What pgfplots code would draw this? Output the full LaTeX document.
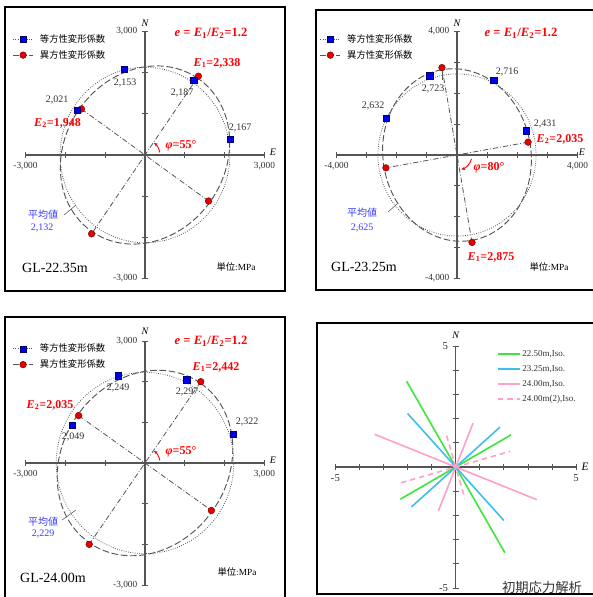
\documentclass[border=0pt]{standalone}
\usepackage{fontspec}
\setmainfont{Liberation Serif}
\newfontfamily\jp{Noto Sans CJK JP}
\usepackage{pgfplots}
\pgfplotsset{compat=1.18}
\usetikzlibrary{arrows.meta}

\definecolor{axgray}{HTML}{555555}
\definecolor{lblgray}{HTML}{333333}
\definecolor{mkred}{HTML}{E60000}
\definecolor{mkblue}{HTML}{0000F0}
\definecolor{avgblue}{HTML}{3C3CFF}
\definecolor{stressgreen}{HTML}{3CE63C}
\definecolor{stressblue}{HTML}{3CBEF0}
\definecolor{stresspink}{HTML}{FFA0C8}

\newcommand\lbl{\fontsize{7.5}{8}\selectfont\color{lblgray}}
\newcommand\redlbl{\fontsize{9}{10}\selectfont\bfseries\color{red}}

\tikzset{
  dirline/.style={axgray, line width=0.6pt,
    dash pattern=on 4pt off 1.5pt on 0.6pt off 1.5pt},
  isocircle/.style={axgray, line width=0.6pt, dash pattern=on 0.6pt off 1.1pt},
  anisoellipse/.style={axgray, line width=0.7pt, dash pattern=on 5pt off 2pt},
  stresskey/.style={anchor=west, inner sep=0pt, font=\fontsize{6.75}{7}\selectfont, text=lblgray},
}

\pgfplotsset{
  rosette/.style={
    scale only axis, anchor=center, clip=false,
    axis lines=middle, axis line style={axgray, line width=0.8pt, -},
    tick style={axgray, line width=0.6pt}, tick align=center, major tick length=4.5pt,
    ticklabel style={font=\fontsize{7}{8}\selectfont, text=lblgray},
  },
  rosettelegend/.style={
    legend cell align=left,
    legend style={at={(#1,1.0)}, anchor=north west, draw=none, fill=none,
      inner sep=0pt, row sep=0.4pt, column sep=2.8pt,
      font=\jp\fontsize{7}{8}\selectfont},
    legend image code/.code={\draw[mark repeat=2,mark phase=2,##1]
      plot coordinates {(0pt,0pt) (7.5pt,0pt) (15pt,0pt)};},
  },
  isomark/.style={only marks, mark=square*, mark size=2.4pt,
    mark options={solid, fill=mkblue, draw=blue!40!black, line width=0.3pt}},
  anisomark/.style={only marks, mark=*, mark size=2.5pt,
    mark options={solid, fill=mkred, draw=red!40!black, line width=0.3pt}},
}

\begin{document}
\begin{tikzpicture}
\path[use as bounding box] (0pt,0pt) rectangle (444.75pt,-447.75pt);

% ---------------- GL-22.35m ----------------
\begin{axis}[rosette, rosettelegend=-0.055,
  at={(108.75pt,-116.25pt)}, width=179.25pt, height=185.25pt,
  xmin=-3000, xmax=3000, ymin=-3000, ymax=3000,
  xtick={-3000,-2000,-1000,1000,2000,3000}, ytick={-3000,-2000,-1000,1000,2000,3000},
  xticklabels={{-3,000},,,,,{3,000}}, yticklabels={{-3,000},,,,,{3,000}}]
\addlegendimage{isocircle, mark=square*, mark size=2.2pt,
  mark options={solid, fill=mkblue, draw=blue!40!black, line width=0.3pt}}
\addlegendentry{等方性変形係数}
\addlegendimage{anisoellipse, dash pattern=on 4.5pt off 1.5pt, mark=*, mark size=2.5pt,
  mark options={solid, fill=mkred, draw=red!40!black, line width=0.3pt}}
\addlegendentry{異方性変形係数}
\draw[isocircle] (axis cs:0,0) ellipse [x radius=2132, y radius=2132];
\draw[anisoellipse, rotate around={55:(axis cs:0,0)}] (axis cs:0,0) ellipse [x radius=2338, y radius=1948];
\addplot[dirline, data cs=polar, forget plot] coordinates {(55,2338) (235,2338)};
\addplot[dirline, data cs=polar, forget plot] coordinates {(145,1948) (325,1948)};
\addplot[anisomark, data cs=polar, forget plot] coordinates {(55,2338) (145,1948) (235,2338) (325,1948)};
\addplot[isomark, data cs=polar, forget plot] coordinates {(10.2,2167) (56,2187) (104.1,2153) (147.4,2021)};
\end{axis}

% ---------------- GL-23.25m ----------------
\begin{axis}[rosette, rosettelegend=-0.07,
  at={(342.75pt,-116.25pt)}, width=180.75pt, height=185.25pt,
  xmin=-4000, xmax=4000, ymin=-4000, ymax=4000,
  xtick={-4000,-3000,-2000,-1000,1000,2000,3000,4000}, ytick={-4000,-3000,-2000,-1000,1000,2000,3000,4000},
  xticklabels={{-4,000},,,,,,,{4,000}}, yticklabels={{-4,000},,,,,,,{4,000}}]
\addlegendimage{isocircle, mark=square*, mark size=2.2pt,
  mark options={solid, fill=mkblue, draw=blue!40!black, line width=0.3pt}}
\addlegendentry{等方性変形係数}
\addlegendimage{anisoellipse, dash pattern=on 4.5pt off 1.5pt, mark=*, mark size=2.5pt,
  mark options={solid, fill=mkred, draw=red!40!black, line width=0.3pt}}
\addlegendentry{異方性変形係数}
\draw[isocircle] (axis cs:0,0) ellipse [x radius=2625, y radius=2625];
\draw[anisoellipse, rotate around={100:(axis cs:0,0)}] (axis cs:0,0) ellipse [x radius=2875, y radius=2396];
\addplot[dirline, data cs=polar, forget plot] coordinates {(100,2875) (280,2875)};
\addplot[dirline, data cs=polar, forget plot] coordinates {(10,2396) (190,2396)};
\addplot[anisomark, data cs=polar, forget plot] coordinates {(100,2875) (10,2396) (280,2875) (190,2396)};
\addplot[isomark, data cs=polar, forget plot] coordinates {(18.9,2431) (63.3,2716) (109.3,2723) (152.9,2632)};
\end{axis}

% ---------------- GL-24.00m ----------------
\begin{axis}[rosette, rosettelegend=-0.055,
  at={(108.75pt,-347.25pt)}, width=179.25pt, height=183pt,
  xmin=-3000, xmax=3000, ymin=-3000, ymax=3000,
  xtick={-3000,-2000,-1000,1000,2000,3000}, ytick={-3000,-2000,-1000,1000,2000,3000},
  xticklabels={{-3,000},,,,,{3,000}}, yticklabels={{-3,000},,,,,{3,000}}]
\addlegendimage{isocircle, mark=square*, mark size=2.2pt,
  mark options={solid, fill=mkblue, draw=blue!40!black, line width=0.3pt}}
\addlegendentry{等方性変形係数}
\addlegendimage{anisoellipse, dash pattern=on 4.5pt off 1.5pt, mark=*, mark size=2.5pt,
  mark options={solid, fill=mkred, draw=red!40!black, line width=0.3pt}}
\addlegendentry{異方性変形係数}
\draw[isocircle] (axis cs:0,0) ellipse [x radius=2229, y radius=2229];
\draw[anisoellipse, rotate around={55:(axis cs:0,0)}] (axis cs:0,0) ellipse [x radius=2442, y radius=2035];
\addplot[dirline, data cs=polar, forget plot] coordinates {(55,2442) (235,2442)};
\addplot[dirline, data cs=polar, forget plot] coordinates {(145,2035) (325,2035)};
\addplot[anisomark, data cs=polar, forget plot] coordinates {(55,2442) (145,2035) (235,2442) (325,2035)};
\addplot[isomark, data cs=polar, forget plot] coordinates {(17.6,2322) (63,2297) (107.3,2249) (152.9,2049)};
\end{axis}

% ---------------- initial stress directions ----------------
\begin{axis}[rosette,
  at={(341.8pt,-350.25pt)}, width=180.5pt, height=181.5pt,
  xmin=-5, xmax=5, ymin=-5, ymax=5,
  xtick={-5,-4,-3,-2,-1,1,2,3,4,5}, ytick={-5,-4,-3,-2,-1,1,2,3,4,5},
  xticklabels={{-5},,,,,,,,,{5}}, yticklabels={{-5},,,,,,,,,{5}},
  ticklabel style={font=\fontsize{8}{9}\selectfont}]
% each depth: two principal directions, both drawn through the origin
\addplot[draw=stressgreen, line width=1.2pt] coordinates {(-2.04,3.54) (2.04,-3.54)};
\addplot[draw=stressgreen, line width=1.2pt] coordinates {(-2.30,-1.33) (2.30,1.33)};
\addplot[draw=stressblue, line width=1.2pt] coordinates {(-2.00,2.21) (2.00,-2.21)};
\addplot[draw=stressblue, line width=1.2pt] coordinates {(-1.84,-1.65) (1.84,1.65)};
\addplot[draw=stresspink, line width=1.2pt] coordinates {(-3.37,1.35) (3.37,-1.35)};
\addplot[draw=stresspink, line width=1.2pt] coordinates {(-0.72,-1.81) (0.72,1.81)};
\addplot[draw=stresspink, line width=1.2pt, dash pattern=on 4pt off 3pt] coordinates {(-2.27,-0.65) (2.27,0.65)};
\addplot[draw=stresspink, line width=1.2pt, dash pattern=on 4pt off 3pt] coordinates {(-0.38,1.30) (0.38,-1.30)};
\end{axis}

% ---------------- frames, titles and annotations ----------------
\begin{scope}[x=0.75pt, y=-0.75pt]
\draw[line width=1.5pt] (5,7) rectangle (285,291);
\draw[line width=1.5pt] (316,10) rectangle (600,290);
\draw[line width=1.5pt] (5,317) rectangle (285,601);
\draw[line width=1.5pt] (317,323) rectangle (600,593.5);

\foreach \cx/\cy in {145/155, 457/155, 145/463, 455.7/467} {
  \node[font=\fontsize{7.5}{8}\selectfont\itshape] at (\cx,\cy-132) {N};
}
\node[font=\fontsize{7.5}{8}\selectfont\itshape] at (273,152) {E};
\node[font=\fontsize{7.5}{8}\selectfont\itshape] at (582,152) {E};
\node[font=\fontsize{7.5}{8}\selectfont\itshape] at (273,460) {E};
\node[font=\fontsize{8.5}{9}\selectfont\itshape] at (585,467) {E};

% key of the stress panel
\draw[stressgreen, line width=1.2pt] (498,354) -- (520,354);
\node[stresskey] at (522,354) {22.50m,Iso.};
\draw[stressblue, line width=1.2pt] (498,369) -- (520,369);
\node[stresskey] at (522,369) {23.25m,Iso.};
\draw[stresspink, line width=1.2pt] (498,384) -- (520,384);
\node[stresskey] at (522,384) {24.00m,Iso.};
\draw[stresspink, line width=1.2pt, dash pattern=on 4pt off 3pt] (498,399) -- (520,399);
\node[stresskey] at (522,399) {24.00m(2),Iso.};

% GL-22.35m
\node[font=\fontsize{9.5}{10}\selectfont\bfseries\color{red}] at (211,33) {\textit{e} = \textit{E}\textsubscript{1}/\textit{E}\textsubscript{2}=1.2};
\node[font=\redlbl] at (217,63) {\textit{E}\textsubscript{1}=2,338};
\node[font=\redlbl] at (57.5,123) {\textit{E}\textsubscript{2}=1,948};
\node[font=\redlbl] at (181,146) {\textit{φ}=55°};
\node[font=\lbl] at (182,93) {2,187};
\node[font=\lbl] at (125,83) {2,153};
\node[font=\lbl] at (57,100) {2,021};
\node[font=\lbl] at (240,128) {2,167};
\node[font=\jp\fontsize{7.5}{8}\selectfont\color{avgblue}] at (43,215) {平均値};
\node[font=\fontsize{7.5}{8}\selectfont\color{avgblue}] at (42,228) {2,132};
\draw[axgray, line width=0.4pt] (64,215) -- (76,205);
\node[font=\fontsize{10.5}{11}\selectfont] at (55,268) {GL-22.35m};
\node[font=\fontsize{7}{8}\selectfont] at (236,267) {{\jp 単位}:MPa};
\draw[red, line width=0.7pt, -{Stealth[length=3pt,width=2.5pt]}] (145,155) ++(10:11.25pt) arc[start angle=10, end angle=54, radius=11.25pt];

% GL-23.25m
\node[font=\fontsize{9.5}{10}\selectfont\bfseries\color{red}] at (521,33) {\textit{e} = \textit{E}\textsubscript{1}/\textit{E}\textsubscript{2}=1.2};
\node[font=\redlbl] at (491,257) {\textit{E}\textsubscript{1}=2,875};
\node[font=\redlbl] at (560,139) {\textit{E}\textsubscript{2}=2,035};
\node[font=\redlbl] at (489,168) {\textit{φ}=80°};
\node[font=\lbl] at (507,72) {2,716};
\node[font=\lbl] at (433,89) {2,723};
\node[font=\lbl] at (373,106) {2,632};
\node[font=\lbl] at (545,124) {2,431};
\node[font=\jp\fontsize{7.5}{8}\selectfont\color{avgblue}] at (362,213) {平均値};
\node[font=\fontsize{7.5}{8}\selectfont\color{avgblue}] at (362,228) {2,625};
\draw[axgray, line width=0.4pt] (388,212) -- (397,204);
\draw[axgray, line width=0.4pt] (442,72) -- (442,80);
\node[font=\fontsize{10.5}{11}\selectfont] at (364,267) {GL-23.25m};
\node[font=\fontsize{7}{8}\selectfont] at (549,267) {{\jp 単位}:MPa};
\draw[red, line width=0.7pt, -{Stealth[length=3pt,width=2.5pt]}] (457,155) ++(-15:11.25pt) arc[start angle=-15, end angle=-74, radius=11.25pt];

% GL-24.00m
\node[font=\fontsize{9.5}{10}\selectfont\bfseries\color{red}] at (211,341) {\textit{e} = \textit{E}\textsubscript{1}/\textit{E}\textsubscript{2}=1.2};
\node[font=\redlbl] at (216,367) {\textit{E}\textsubscript{1}=2,442};
\node[font=\redlbl] at (50,405) {\textit{E}\textsubscript{2}=2,035};
\node[font=\redlbl] at (181,452) {\textit{φ}=55°};
\node[font=\lbl] at (187,392) {2,297};
\node[font=\lbl] at (118,388) {2,249};
\node[font=\lbl] at (73,437) {2,049};
\node[font=\lbl] at (247,422) {2,322};
\node[font=\jp\fontsize{7.5}{8}\selectfont\color{avgblue}] at (43,522) {平均値};
\node[font=\fontsize{7.5}{8}\selectfont\color{avgblue}] at (43,534) {2,229};
\draw[axgray, line width=0.4pt] (62,520) -- (76,510);
\node[font=\fontsize{10.5}{11}\selectfont] at (53,578) {GL-24.00m};
\node[font=\fontsize{7}{8}\selectfont] at (237,572) {{\jp 単位}:MPa};
\draw[red, line width=0.7pt, -{Stealth[length=3pt,width=2.5pt]}] (145,463) ++(10:11.25pt) arc[start angle=10, end angle=54, radius=11.25pt];

% stress panel caption
\node[font=\jp\fontsize{10}{11}\selectfont\color{lblgray}] at (542,587) {初期応力解析};
\end{scope}
\end{tikzpicture}
\end{document}
